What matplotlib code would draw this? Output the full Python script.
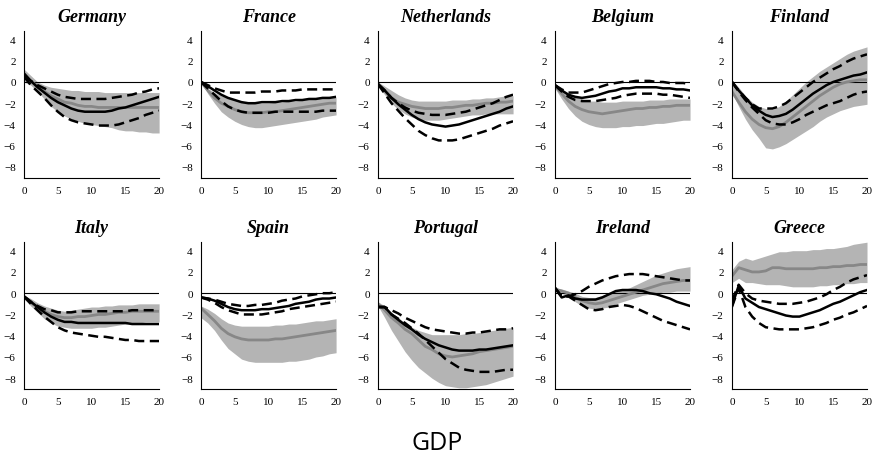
import matplotlib
matplotlib.use("Agg")
import matplotlib.pyplot as plt
import numpy as np

# horizon (quarters)
horizon = list(range(21))

countries = ["Germany", "France", "Netherlands", "Belgium", "Finland",
             "Italy", "Spain", "Portugal", "Ireland", "Greece"]

# grey confidence band, upper / lower
band_hi = {
    "Germany": [1.2, 0.6, 0.0, -0.3, -0.5, -0.6, -0.7, -0.8, -0.8, -0.9, -0.9, -0.9, -1.0, -1.0, -1.0, -1.0, -1.0, -1.0, -1.0, -1.0, -1.0],
    "France": [0.0, -0.6, -1.0, -1.3, -1.5, -1.7, -1.9, -2.0, -2.0, -2.0, -2.0, -1.9, -1.9, -1.8, -1.8, -1.7, -1.6, -1.6, -1.5, -1.5, -1.4],
    "Netherlands": [0.0, -0.4, -0.8, -1.2, -1.5, -1.7, -1.8, -1.8, -1.8, -1.8, -1.8, -1.7, -1.7, -1.7, -1.6, -1.6, -1.5, -1.5, -1.4, -1.3, -1.3],
    "Belgium": [-0.2, -0.7, -1.1, -1.4, -1.6, -1.8, -1.8, -1.9, -1.9, -1.9, -1.8, -1.8, -1.8, -1.8, -1.7, -1.7, -1.7, -1.6, -1.6, -1.6, -1.6],
    "Finland": [0.2, -0.5, -1.3, -1.9, -2.3, -2.5, -2.6, -2.3, -1.8, -1.2, -0.6, 0.0, 0.5, 1.0, 1.4, 1.8, 2.2, 2.6, 2.9, 3.1, 3.3],
    "Italy": [-0.2, -0.5, -0.9, -1.2, -1.4, -1.6, -1.7, -1.6, -1.5, -1.4, -1.3, -1.3, -1.2, -1.2, -1.1, -1.1, -1.1, -1.0, -1.0, -1.0, -1.0],
    "Spain": [-1.2, -1.5, -1.9, -2.4, -2.8, -3.0, -3.1, -3.1, -3.1, -3.1, -3.1, -3.0, -3.0, -2.9, -2.9, -2.8, -2.7, -2.6, -2.6, -2.5, -2.4],
    "Portugal": [-0.8, -1.2, -1.8, -2.3, -2.8, -3.2, -3.5, -3.7, -3.9, -3.9, -3.9, -3.9, -3.9, -3.8, -3.8, -3.7, -3.6, -3.5, -3.4, -3.3, -3.2],
    "Ireland": [0.5, 0.4, 0.2, 0.0, -0.3, -0.4, -0.4, -0.2, 0.0, 0.2, 0.3, 0.5, 0.8, 1.1, 1.4, 1.7, 1.9, 2.1, 2.3, 2.4, 2.5],
    "Greece": [2.2, 3.0, 3.3, 3.1, 3.3, 3.5, 3.7, 3.9, 3.9, 4.0, 4.0, 4.0, 4.1, 4.1, 4.2, 4.2, 4.3, 4.4, 4.6, 4.7, 4.8],
}
band_lo = {
    "Germany": [0.0, -0.3, -0.9, -1.6, -2.3, -2.8, -3.2, -3.5, -3.7, -3.9, -4.0, -4.1, -4.2, -4.3, -4.5, -4.6, -4.6, -4.7, -4.7, -4.8, -4.8],
    "France": [0.0, -1.1, -2.0, -2.8, -3.3, -3.7, -4.0, -4.2, -4.3, -4.3, -4.2, -4.1, -4.0, -3.9, -3.8, -3.7, -3.6, -3.5, -3.3, -3.2, -3.1],
    "Netherlands": [-0.4, -1.2, -2.0, -2.6, -3.0, -3.3, -3.5, -3.6, -3.6, -3.6, -3.5, -3.4, -3.3, -3.2, -3.1, -3.1, -3.0, -3.0, -3.0, -3.0, -3.0],
    "Belgium": [-0.6, -1.6, -2.5, -3.2, -3.7, -4.0, -4.2, -4.3, -4.3, -4.3, -4.2, -4.2, -4.1, -4.1, -4.0, -3.9, -3.9, -3.8, -3.7, -3.6, -3.6],
    "Finland": [-1.0, -2.3, -3.5, -4.5, -5.3, -6.2, -6.3, -6.1, -5.8, -5.4, -5.0, -4.6, -4.2, -3.7, -3.3, -3.0, -2.7, -2.5, -2.3, -2.2, -2.1],
    "Italy": [-0.5, -1.2, -1.8, -2.4, -2.8, -3.1, -3.2, -3.3, -3.3, -3.3, -3.3, -3.2, -3.2, -3.1, -3.0, -2.9, -2.8, -2.8, -2.7, -2.7, -2.7],
    "Spain": [-2.3, -2.8, -3.5, -4.4, -5.2, -5.7, -6.2, -6.4, -6.5, -6.5, -6.5, -6.5, -6.5, -6.4, -6.4, -6.3, -6.2, -6.0, -5.9, -5.7, -5.6],
    "Portugal": [-1.2, -2.3, -3.5, -4.5, -5.5, -6.3, -7.0, -7.5, -8.0, -8.4, -8.7, -8.8, -8.9, -8.9, -8.8, -8.7, -8.6, -8.4, -8.2, -8.0, -7.8],
    "Ireland": [0.3, 0.0, -0.3, -0.8, -1.2, -1.4, -1.5, -1.4, -1.3, -1.0, -0.8, -0.6, -0.4, -0.2, -0.1, 0.0, 0.1, 0.1, 0.2, 0.2, 0.2],
    "Greece": [1.0, 1.4, 1.0, 1.0, 0.9, 0.8, 0.8, 0.8, 0.7, 0.6, 0.6, 0.6, 0.6, 0.7, 0.7, 0.8, 0.8, 0.9, 0.9, 1.0, 1.0],
}
# grey median response
grey_mid = {
    "Germany": [0.5, 0.1, -0.4, -0.9, -1.3, -1.6, -1.9, -2.0, -2.2, -2.3, -2.3, -2.4, -2.4, -2.4, -2.4, -2.4, -2.4, -2.4, -2.4, -2.4, -2.4],
    "France": [0.0, -0.8, -1.5, -2.0, -2.3, -2.6, -2.8, -2.9, -2.9, -2.9, -2.8, -2.8, -2.7, -2.6, -2.5, -2.4, -2.3, -2.2, -2.1, -2.0, -2.0],
    "Netherlands": [-0.2, -0.8, -1.5, -1.9, -2.1, -2.3, -2.4, -2.5, -2.5, -2.5, -2.4, -2.4, -2.3, -2.2, -2.2, -2.1, -2.0, -2.0, -1.9, -1.9, -1.8],
    "Belgium": [-0.4, -1.1, -1.8, -2.3, -2.6, -2.8, -2.9, -3.0, -2.9, -2.8, -2.7, -2.6, -2.5, -2.5, -2.4, -2.4, -2.3, -2.3, -2.2, -2.2, -2.2],
    "Finland": [-0.9, -1.9, -2.8, -3.5, -4.0, -4.3, -4.4, -4.2, -3.8, -3.3, -2.8, -2.3, -1.8, -1.3, -0.9, -0.5, -0.2, 0.0, 0.1, 0.2, 0.2],
    "Italy": [-0.4, -0.9, -1.3, -1.7, -2.0, -2.2, -2.3, -2.3, -2.2, -2.2, -2.1, -2.0, -2.0, -1.9, -1.8, -1.8, -1.7, -1.7, -1.7, -1.7, -1.7],
    "Spain": [-1.4, -2.0, -2.6, -3.3, -3.8, -4.1, -4.3, -4.4, -4.4, -4.4, -4.4, -4.3, -4.3, -4.2, -4.1, -4.0, -3.9, -3.8, -3.7, -3.6, -3.5],
    "Portugal": [-1.0, -1.6, -2.3, -2.8, -3.4, -3.8, -4.4, -5.0, -5.3, -5.7, -5.9, -6.0, -5.9, -5.8, -5.7, -5.5, -5.4, -5.3, -5.2, -5.1, -5.0],
    "Ireland": [0.4, 0.2, 0.0, -0.4, -0.7, -0.9, -1.0, -0.9, -0.7, -0.5, -0.3, -0.1, 0.1, 0.3, 0.5, 0.7, 0.9, 1.0, 1.1, 1.2, 1.2],
    "Greece": [1.6, 2.4, 2.2, 2.0, 2.0, 2.1, 2.4, 2.4, 2.3, 2.3, 2.3, 2.3, 2.3, 2.4, 2.4, 2.5, 2.5, 2.6, 2.6, 2.7, 2.7],
}
# black response with dashed bands
black_mid = {
    "Germany": [0.8, 0.1, -0.5, -1.0, -1.5, -1.9, -2.2, -2.5, -2.7, -2.8, -2.8, -2.8, -2.8, -2.7, -2.5, -2.4, -2.2, -2.0, -1.8, -1.6, -1.4],
    "France": [0.0, -0.4, -0.8, -1.2, -1.5, -1.7, -1.9, -2.0, -2.0, -1.9, -1.9, -1.9, -1.8, -1.8, -1.7, -1.7, -1.6, -1.6, -1.5, -1.5, -1.4],
    "Netherlands": [-0.2, -0.8, -1.5, -2.1, -2.6, -3.1, -3.5, -3.8, -4.0, -4.1, -4.2, -4.1, -4.0, -3.8, -3.6, -3.4, -3.2, -3.0, -2.8, -2.5, -2.3],
    "Belgium": [-0.3, -0.8, -1.2, -1.4, -1.5, -1.4, -1.3, -1.1, -0.9, -0.8, -0.6, -0.6, -0.5, -0.5, -0.5, -0.5, -0.6, -0.6, -0.7, -0.7, -0.8],
    "Finland": [0.0, -0.8, -1.5, -2.2, -2.7, -3.1, -3.3, -3.2, -3.0, -2.6, -2.1, -1.6, -1.1, -0.7, -0.3, 0.0, 0.2, 0.4, 0.6, 0.7, 0.9],
    "Italy": [-0.3, -0.8, -1.3, -1.8, -2.2, -2.5, -2.7, -2.7, -2.8, -2.8, -2.8, -2.8, -2.8, -2.8, -2.8, -2.8, -2.9, -2.9, -2.9, -2.9, -2.9],
    "Spain": [-0.4, -0.5, -0.7, -1.0, -1.3, -1.5, -1.6, -1.6, -1.6, -1.5, -1.5, -1.4, -1.3, -1.2, -1.0, -0.9, -0.8, -0.6, -0.5, -0.5, -0.4],
    "Portugal": [-1.3, -1.3, -2.0, -2.5, -3.0, -3.4, -3.9, -4.3, -4.6, -4.9, -5.1, -5.3, -5.4, -5.4, -5.4, -5.3, -5.3, -5.2, -5.1, -5.0, -4.9],
    "Ireland": [0.5, -0.4, -0.2, -0.5, -0.6, -0.6, -0.6, -0.4, -0.1, 0.2, 0.3, 0.3, 0.3, 0.2, 0.0, -0.1, -0.3, -0.5, -0.8, -1.0, -1.2],
    "Greece": [-1.2, 0.7, -0.5, -0.9, -1.3, -1.5, -1.7, -1.9, -2.1, -2.2, -2.2, -2.0, -1.8, -1.6, -1.3, -1.0, -0.8, -0.5, -0.2, 0.1, 0.3],
}
dash_hi = {
    "Germany": [0.5, 0.1, -0.3, -0.6, -0.9, -1.2, -1.4, -1.5, -1.6, -1.6, -1.6, -1.6, -1.6, -1.5, -1.4, -1.3, -1.2, -1.0, -0.9, -0.7, -0.6],
    "France": [0.0, -0.3, -0.6, -0.8, -1.0, -1.0, -1.0, -1.0, -1.0, -0.9, -0.9, -0.9, -0.8, -0.8, -0.8, -0.7, -0.7, -0.7, -0.7, -0.7, -0.7],
    "Netherlands": [-0.2, -0.8, -1.5, -2.0, -2.4, -2.7, -2.9, -3.0, -3.1, -3.1, -3.1, -3.0, -2.9, -2.8, -2.6, -2.4, -2.2, -2.0, -1.7, -1.4, -1.2],
    "Belgium": [-0.3, -0.7, -1.0, -1.0, -1.0, -0.8, -0.6, -0.4, -0.2, -0.1, 0.0, 0.0, 0.1, 0.1, 0.1, 0.0, 0.0, -0.1, -0.1, -0.1, -0.2],
    "Finland": [0.0, -0.8, -1.5, -2.1, -2.5, -2.5, -2.5, -2.3, -2.0, -1.5, -1.0, -0.5, 0.0, 0.4, 0.8, 1.2, 1.5, 1.9, 2.2, 2.4, 2.6],
    "Italy": [-0.3, -0.8, -1.2, -1.5, -1.6, -1.8, -1.8, -1.8, -1.7, -1.7, -1.7, -1.7, -1.7, -1.7, -1.7, -1.7, -1.6, -1.6, -1.6, -1.6, -1.6],
    "Spain": [-0.4, -0.5, -0.6, -0.8, -1.0, -1.1, -1.2, -1.2, -1.1, -1.1, -1.0, -0.9, -0.7, -0.6, -0.5, -0.3, -0.2, -0.1, 0.0, 0.0, 0.1],
    "Portugal": [-1.3, -1.3, -1.6, -1.9, -2.3, -2.6, -2.9, -3.2, -3.4, -3.5, -3.6, -3.7, -3.8, -3.8, -3.7, -3.7, -3.6, -3.5, -3.4, -3.4, -3.3],
    "Ireland": [0.5, -0.3, -0.3, -0.1, 0.2, 0.6, 0.9, 1.2, 1.4, 1.6, 1.7, 1.8, 1.8, 1.8, 1.7, 1.6, 1.5, 1.4, 1.3, 1.2, 1.2],
    "Greece": [-0.7, 0.8, 0.0, -0.5, -0.7, -0.8, -0.9, -1.0, -1.0, -1.0, -0.9, -0.8, -0.6, -0.4, -0.1, 0.3, 0.6, 1.0, 1.3, 1.5, 1.7],
}
dash_lo = {
    "Germany": [0.5, -0.3, -0.9, -1.5, -2.2, -2.8, -3.3, -3.6, -3.8, -3.9, -4.0, -4.1, -4.1, -4.1, -4.0, -3.8, -3.6, -3.4, -3.1, -2.9, -2.7],
    "France": [0.0, -0.6, -1.2, -1.8, -2.3, -2.6, -2.8, -2.9, -2.9, -2.9, -2.9, -2.8, -2.8, -2.8, -2.8, -2.8, -2.8, -2.8, -2.7, -2.7, -2.7],
    "Netherlands": [-0.2, -1.1, -2.0, -2.7, -3.4, -4.0, -4.6, -5.0, -5.3, -5.5, -5.5, -5.5, -5.4, -5.2, -5.0, -4.8, -4.6, -4.4, -4.1, -3.9, -3.7],
    "Belgium": [-0.3, -0.9, -1.4, -1.7, -1.8, -1.8, -1.8, -1.7, -1.6, -1.5, -1.3, -1.2, -1.1, -1.1, -1.1, -1.1, -1.2, -1.2, -1.3, -1.4, -1.5],
    "Finland": [0.0, -0.9, -1.7, -2.4, -3.0, -3.6, -3.9, -4.0, -4.0, -3.8, -3.5, -3.1, -2.8, -2.5, -2.2, -2.0, -1.8, -1.5, -1.2, -1.0, -0.9],
    "Italy": [-0.3, -1.0, -1.6, -2.2, -2.7, -3.2, -3.5, -3.7, -3.8, -3.9, -4.0, -4.1, -4.1, -4.2, -4.3, -4.4, -4.4, -4.5, -4.5, -4.5, -4.5],
    "Spain": [-0.4, -0.6, -0.9, -1.3, -1.6, -1.8, -2.0, -2.0, -2.0, -2.0, -1.9, -1.8, -1.7, -1.5, -1.4, -1.3, -1.2, -1.1, -1.0, -0.9, -0.8],
    "Portugal": [-1.3, -1.3, -2.0, -2.4, -2.8, -3.3, -3.8, -4.4, -5.0, -5.6, -6.2, -6.6, -7.0, -7.2, -7.3, -7.4, -7.4, -7.4, -7.3, -7.2, -7.2],
    "Ireland": [0.5, -0.3, -0.3, -0.7, -1.1, -1.5, -1.6, -1.5, -1.3, -1.2, -1.1, -1.2, -1.4, -1.7, -2.0, -2.3, -2.6, -2.8, -3.0, -3.2, -3.4],
    "Greece": [-1.3, 0.5, -1.3, -2.2, -2.8, -3.2, -3.3, -3.4, -3.4, -3.4, -3.4, -3.3, -3.2, -3.0, -2.8, -2.5, -2.3, -2.0, -1.8, -1.5, -1.2],
}

xticks = [0, 5, 10, 15, 20]
yticks = [-8, -6, -4, -2, 0, 2, 4]

serif = ["Liberation Serif", "DejaVu Serif"]

fig, axes = plt.subplots(2, 5, figsize=(8.74, 4.56), dpi=100)
fig.subplots_adjust(left=0.0275, right=0.992, top=0.93, bottom=0.145,
                    wspace=0.31, hspace=0.44)

for ax, c in zip(axes.flat, countries):
    ax.fill_between(horizon, band_lo[c], band_hi[c], color="#b4b4b4", lw=0)
    ax.axhline(0, color="black", lw=0.8)
    ax.plot(horizon, grey_mid[c], color="#878787", lw=2.0)
    ax.plot(horizon, black_mid[c], color="black", lw=1.8)
    ax.plot(horizon, dash_hi[c], color="black", lw=1.8, dashes=(4, 2.2))
    ax.plot(horizon, dash_lo[c], color="black", lw=1.8, dashes=(4, 2.2))

    ax.set_xlim(0, 20)
    ax.set_ylim(-9, 4.8)
    ax.set_xticks(xticks)
    ax.set_yticks(yticks)
    ax.set_yticklabels([str(t).replace("-", "\u2212") for t in yticks])
    ax.spines["top"].set_visible(False)
    ax.spines["right"].set_visible(False)
    ax.spines["left"].set_linewidth(0.8)
    ax.spines["bottom"].set_linewidth(0.8)
    ax.tick_params(direction="in", length=0, pad=6)
    for lab in ax.get_xticklabels() + ax.get_yticklabels():
        lab.set_family(serif)
        lab.set_fontsize(8)
    ax.set_title(c, family=serif, style="italic", weight="bold",
                 fontsize=13, pad=7)

fig.text(0.5, 0.027, "GDP", ha="center", va="center",
         family="Open Sans", fontsize=18)

fig.savefig("out.png", dpi=100)
